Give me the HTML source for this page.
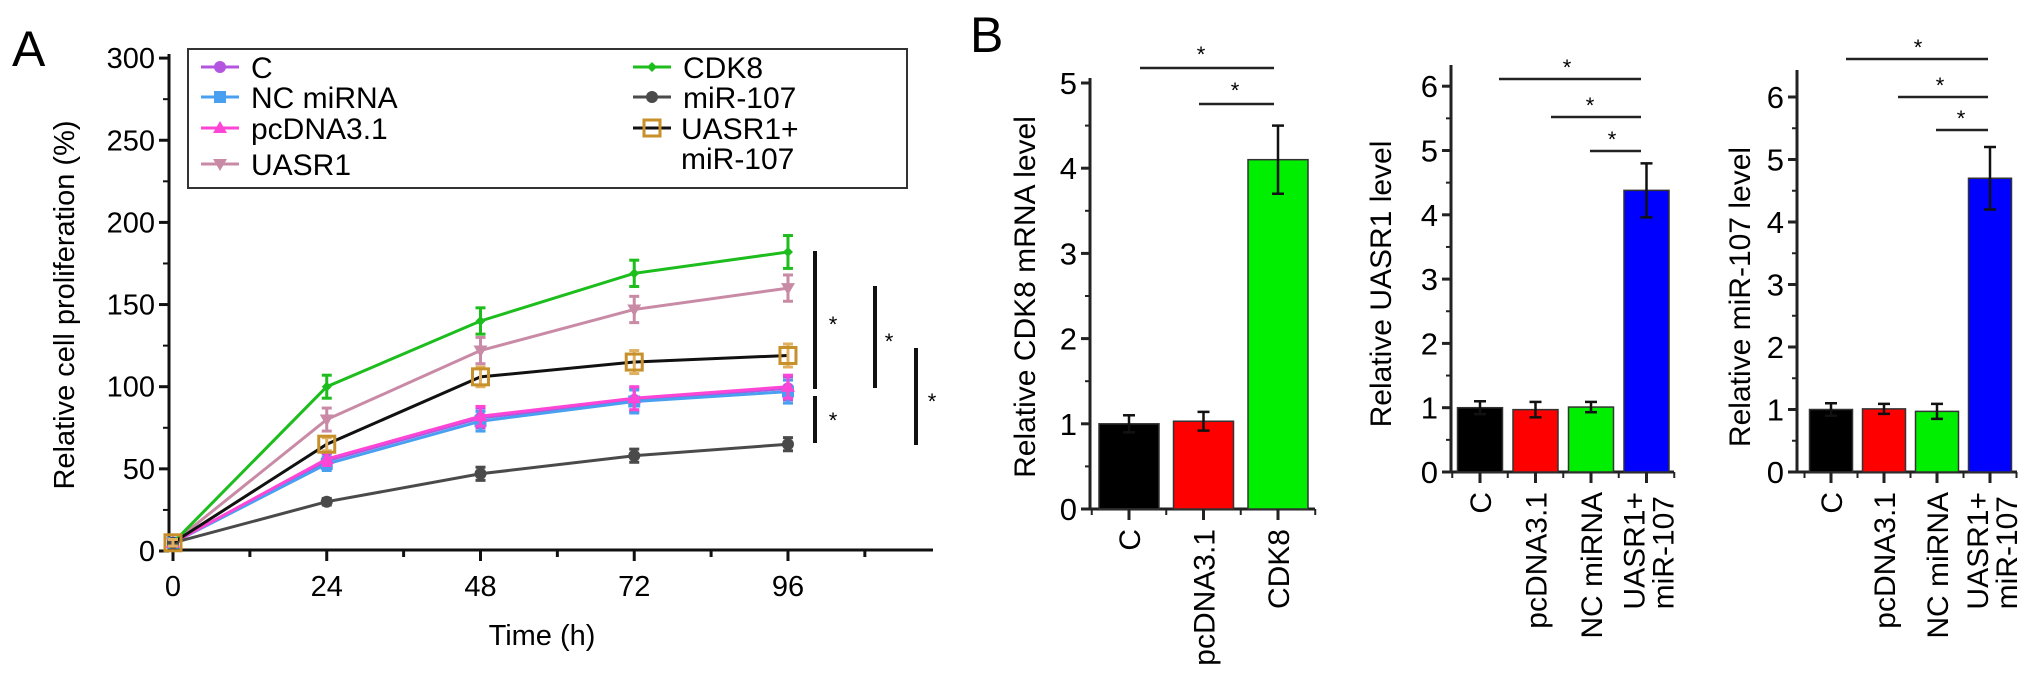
<!DOCTYPE html>
<html><head><meta charset="utf-8">
<style>
html,body{margin:0;padding:0;background:#fff;}
svg{display:block;font-family:"Liberation Sans",Arial,sans-serif;}
</style></head>
<body>
<svg id="fig" width="2032" height="685" viewBox="0 0 2032 685" xmlns="http://www.w3.org/2000/svg">
<text x="12" y="66" font-size="50">A</text>
<text x="970" y="52" font-size="50">B</text>
<g id="pa"></g>
<g id="b1"></g>
<g id="b2"></g>
<g id="b3"></g>
</svg>
<script>
// ---- Panel A data ----
const timePoints = [0, 24, 48, 72, 96];
const xTickLabels = ["0", "24", "48", "72", "96"];
const yTickValsA = [0, 50, 100, 150, 200, 250, 300];
const seriesNames = ["C", "NC miRNA", "pcDNA3.1", "UASR1", "CDK8", "miR-107", "UASR1+miR-107"];
const valsC = [5, 55, 81, 92, 99];
const valsNC = [5, 53, 79, 91, 97];
const valsPc = [5, 56, 82, 93, 100];
const valsUASR1 = [5, 80, 122, 147, 160];
const valsCDK8 = [5, 100, 140, 169, 182];
const valsMiR = [5, 30, 47, 58, 65];
const valsCombo = [5, 65, 106, 115, 119];
const errC = [2, 4, 6, 7, 7];
const errNC = [2, 4, 6, 7, 7];
const errPc = [2, 4, 6, 7, 7];
const errUASR1 = [2, 7, 8, 8, 8];
const errCDK8 = [2, 7, 8, 8, 10];
const errMiR = [2, 2, 4, 4, 4];
const errCombo = [2, 4, 6, 7, 7];

// ---- Panel B data ----
const b1Cats = ["C", "pcDNA3.1", "CDK8"];
const b1Vals = [1.0, 1.03, 4.1];
const b1Err = [0.1, 0.11, 0.4];
const b1Ticks = [0, 1, 2, 3, 4, 5];
const b2Cats = ["C", "pcDNA3.1", "NC miRNA", "UASR1+|miR-107"];
const b2Vals = [1.0, 0.97, 1.01, 4.38];
const b2Err = [0.1, 0.12, 0.08, 0.42];
const b3Cats = ["C", "pcDNA3.1", "NC miRNA", "UASR1+|miR-107"];
const b3Vals = [1.0, 1.01, 0.97, 4.7];
const b3Err = [0.1, 0.08, 0.12, 0.5];
const b23Ticks = [0, 1, 2, 3, 4, 5, 6];

const NS = "http://www.w3.org/2000/svg";
function mk(parent, tag, attrs, txt) {
  const e = document.createElementNS(NS, tag);
  for (const k in attrs) e.setAttribute(k, attrs[k]);
  if (txt !== undefined) e.textContent = txt;
  parent.appendChild(e);
  return e;
}

// ================= Panel A =================
(function () {
  const g = document.getElementById('pa');
  const ax = t => 173 + t * 6.406;
  const ay = v => 551 - v * 1.643;
  let e = mk(g, 'line', {x1: 169, y1: 54, x2: 169, y2: 551, stroke: '#111', 'stroke-width': 3});
  
  
  e = mk(g, 'line', {x1: 168, y1: 550, x2: 933, y2: 550, stroke: '#111', 'stroke-width': 3});
  
  
  yTickValsA.forEach((v, i) => {
    mk(g, 'line', {x1: 159, y1: ay(v), x2: 169, y2: ay(v), stroke: '#111', 'stroke-width': 3});
    if (i < yTickValsA.length - 1) mk(g, 'line', {x1: 163, y1: ay(v + 25), x2: 169, y2: ay(v + 25), stroke: '#111', 'stroke-width': 2});
    const t = mk(g, 'text', {x: 155, y: ay(v) + 10, 'font-size': 29, 'text-anchor': 'end'}, String(v));
    
    
  });
  for (let h = 0; h <= 108; h += 12) {
    const major = h % 24 === 0;
    mk(g, 'line', {x1: ax(h), y1: 550, x2: ax(h), y2: major ? 561 : 557, stroke: '#111', 'stroke-width': 3});
  }
  timePoints.forEach((t, i) => {
    const tx = mk(g, 'text', {x: ax(t), y: 596, 'font-size': 29, 'text-anchor': 'middle'}, xTickLabels[i]);
    
    
  });
  e = mk(g, 'text', {x: 542, y: 645, 'font-size': 29, 'text-anchor': 'middle'}, 'Time (h)');
  
  
  e = mk(g, 'text', {x: 0, y: 0, 'font-size': 29, 'text-anchor': 'middle', transform: 'translate(74,305) rotate(-90)'}, 'Relative cell proliferation (%)');
  
  

  const series = [
    {name: 'c', vals: valsC, err: errC, color: '#b455e0', mk: 'circle'},
    {name: 'nc-mirna', vals: valsNC, err: errNC, color: '#4aa0f0', mk: 'square'},
    {name: 'pcdna31', vals: valsPc, err: errPc, color: '#ff45d5', mk: 'tri'},
    {name: 'uasr1', vals: valsUASR1, err: errUASR1, color: '#c98aa6', mk: 'dtri'},
    {name: 'cdk8', vals: valsCDK8, err: errCDK8, color: '#1cbd1c', mk: 'diamond'},
    {name: 'mir-107', vals: valsMiR, err: errMiR, color: '#4a4a4a', mk: 'circle'},
    {name: 'uasr1-mir-107', vals: valsCombo, err: errCombo, color: '#111', mk: 'osquare'}
  ];
  function marker(p, type, x, y, color) {
    if (type === 'circle') return mk(p, 'circle', {cx: x, cy: y, r: 6, fill: color});
    if (type === 'square') return mk(p, 'rect', {x: x - 6, y: y - 6, width: 12, height: 12, fill: color});
    if (type === 'tri') return mk(p, 'polygon', {points: `${x},${y-7} ${x-7},${y+5} ${x+7},${y+5}`, fill: color});
    if (type === 'dtri') return mk(p, 'polygon', {points: `${x},${y+7} ${x-7},${y-5} ${x+7},${y-5}`, fill: color});
    if (type === 'diamond') return mk(p, 'polygon', {points: `${x},${y-5} ${x-5},${y} ${x},${y+5} ${x+5},${y}`, fill: color});
    if (type === 'osquare') return mk(p, 'rect', {x: x - 8, y: y - 8, width: 16, height: 16, fill: 'none', stroke: '#c8902a', 'stroke-width': 3});
  }
  series.forEach(s => {
    const sg = mk(g, 'g', {});
    
    
    const pts = timePoints.map((t, i) => ax(t) + ',' + ay(s.vals[i])).join(' ');
    mk(sg, 'polyline', {points: pts, fill: 'none', stroke: s.color, 'stroke-width': 3});
    timePoints.forEach((t, i) => {
      const x = ax(t), y1 = ay(s.vals[i] + s.err[i]), y2 = ay(s.vals[i] - s.err[i]);
      const ec = s.mk === 'osquare' ? '#e0b060' : s.color;
      mk(sg, 'line', {x1: x, y1: y1, x2: x, y2: y2, stroke: ec, 'stroke-width': 3});
      mk(sg, 'line', {x1: x - 5, y1: y1, x2: x + 5, y2: y1, stroke: ec, 'stroke-width': 3});
      mk(sg, 'line', {x1: x - 5, y1: y2, x2: x + 5, y2: y2, stroke: ec, 'stroke-width': 3});
      const m = marker(sg, s.mk, x, ay(s.vals[i]), s.color);
      
      
    });
  });
  // legend
  const lg = mk(g, 'g', {});
  
  
  mk(lg, 'rect', {x: 188, y: 49, width: 719, height: 139, fill: '#fff', stroke: '#333', 'stroke-width': 2});
  const legPos = [[201, 67], [201, 97], [201, 128], [201, 164], [633, 67], [633, 97], [633, 128]];
  series.forEach((s, i) => {
    const [lx, ly] = legPos[i];
    const eg = mk(lg, 'g', {});
    
    
    mk(eg, 'line', {x1: lx, y1: ly, x2: lx + 38, y2: ly, stroke: s.color, 'stroke-width': 3});
    marker(eg, s.mk, lx + 19, ly, s.color);
    if (i === 6) {
      mk(eg, 'text', {x: lx + 48, y: ly + 11, 'font-size': 30}, 'UASR1+');
      mk(eg, 'text', {x: lx + 48, y: 169, 'font-size': 30}, 'miR-107');
    } else {
      mk(eg, 'text', {x: lx + 50, y: ly + 11, 'font-size': 30}, seriesNames[i]);
    }
  });
  const sig = [[815, 251, 389], [815, 396, 443], [875, 286, 388], [916, 348, 445]];
  sig.forEach(b => {
    const l = mk(g, 'line', {x1: b[0], y1: b[1], x2: b[0], y2: b[2], stroke: '#111', 'stroke-width': 4});
    
    
  });
  [[833, 332], [833, 428], [889, 349], [932, 409]].forEach(s => {
    const t = mk(g, 'text', {x: s[0], y: s[1], 'font-size': 22, 'text-anchor': 'middle'}, '*');
    
    
  });
})();

// ================= Panel B =================
function barChart(id, cfg) {
  const g = document.getElementById(id);
  const by = v => cfg.base - v * cfg.unit;
  const colors = cfg.colors;
  let e = mk(g, 'line', {x1: cfg.axisX, y1: cfg.top, x2: cfg.axisX, y2: cfg.base + 1, stroke: '#222', 'stroke-width': 3});
  
  
  e = mk(g, 'line', {x1: cfg.axisX - 8, y1: cfg.base, x2: cfg.axisEnd, y2: cfg.base, stroke: '#222', 'stroke-width': 3});
  
  
  cfg.ticks.forEach((v, i) => {
    mk(g, 'line', {x1: cfg.axisX - 9, y1: by(v), x2: cfg.axisX, y2: by(v), stroke: '#222', 'stroke-width': 3});
    if (i < cfg.ticks.length - 1) mk(g, 'line', {x1: cfg.axisX - 5, y1: by(v + 0.5), x2: cfg.axisX, y2: by(v + 0.5), stroke: '#222', 'stroke-width': 2});
    const t = mk(g, 'text', {x: cfg.axisX - 13, y: by(v) + 11, 'font-size': 31, 'text-anchor': 'end'}, String(v));
    
    
  });
  const n = cfg.cats.length;
  const cx = i => cfg.first + i * cfg.step;
  for (let i = 0; i <= n; i++) {
    const xx = cfg.first + (i - 0.5) * cfg.step;
    if (xx > cfg.axisX && xx < cfg.axisEnd + 2) mk(g, 'line', {x1: xx, y1: cfg.base, x2: xx, y2: cfg.base + 6, stroke: '#222', 'stroke-width': 2});
  }
  cfg.cats.forEach((c, i) => {
    const x = cx(i);
    const r = mk(g, 'rect', {x: x - cfg.bw / 2, y: by(cfg.vals[i]), width: cfg.bw, height: cfg.vals[i] * cfg.unit, fill: colors[i], stroke: '#333', 'stroke-width': 1.5});
    
    
    const y1 = by(cfg.vals[i] + cfg.err[i]), y2 = by(cfg.vals[i] - cfg.err[i]);
    const eb = mk(g, 'g', {});
    
    
    mk(eb, 'line', {x1: x, y1: y1, x2: x, y2: y2, stroke: '#111', 'stroke-width': 2.5});
    mk(eb, 'line', {x1: x - 6, y1: y1, x2: x + 6, y2: y1, stroke: '#111', 'stroke-width': 2.5});
    mk(eb, 'line', {x1: x - 6, y1: y2, x2: x + 6, y2: y2, stroke: '#111', 'stroke-width': 2.5});
    mk(g, 'line', {x1: x, y1: cfg.base, x2: x, y2: cfg.base + 11, stroke: '#222', 'stroke-width': 3});
    const parts = c.split('|');
    const top = cfg.base + 20;
    if (parts.length === 1) {
      const t = mk(g, 'text', {x: 0, y: 0, 'font-size': 30, 'text-anchor': 'end', transform: `translate(${x + 11},${top}) rotate(-90)`}, parts[0]);
      
      
    } else {
      let t = mk(g, 'text', {x: 0, y: 0, 'font-size': 30, 'text-anchor': 'end', transform: `translate(${x - 2},${top}) rotate(-90)`}, parts[0]);
      
      
      t = mk(g, 'text', {x: 0, y: 0, 'font-size': 30, 'text-anchor': 'end', transform: `translate(${x + 27},${top + 4}) rotate(-90)`}, parts[1]);
      
      
    }
  });
  e = mk(g, 'text', {x: 0, y: 0, 'font-size': 30, 'text-anchor': 'middle', transform: `translate(${cfg.titleX},${cfg.titleY}) rotate(-90)`}, cfg.title);
  
  
  cfg.sig.forEach(s => {
    const l = mk(g, 'line', {x1: s[0], y1: s[2], x2: s[1], y2: s[2], stroke: '#222', 'stroke-width': 2.5});
    
    
    const t = mk(g, 'text', {x: s[3], y: s[4], 'font-size': 22, 'text-anchor': 'middle'}, '*');
    
    
  });
}

barChart('b1', {cats: b1Cats, vals: b1Vals, err: b1Err, ticks: b1Ticks,
  base: 509, unit: 85.2, top: 78, axisX: 1090, axisEnd: 1315, first: 1129, step: 74.5, bw: 60,
  colors: ['#000000', '#ff0000', '#00ee00'], title: 'Relative CDK8 mRNA level', titleX: 1035, titleY: 297,
  sig: [[1140, 1274, 68, 1201, 62], [1199, 1274, 104, 1235, 98]]});
barChart('b2', {cats: b2Cats, vals: b2Vals, err: b2Err, ticks: b23Ticks,
  base: 472, unit: 64.3, top: 65, axisX: 1451, axisEnd: 1674, first: 1480, step: 55.5, bw: 45,
  colors: ['#000000', '#ff0000', '#00ee00', '#0000ff'], title: 'Relative UASR1 level', titleX: 1391, titleY: 284,
  sig: [[1499, 1641, 79, 1567, 75], [1551, 1641, 117, 1590, 113], [1590, 1641, 151, 1612, 147]]});
barChart('b3', {cats: b3Cats, vals: b3Vals, err: b3Err, ticks: b23Ticks,
  base: 472, unit: 62.5, top: 70, axisX: 1797, axisEnd: 2017, first: 1831, step: 53, bw: 43,
  colors: ['#000000', '#ff0000', '#00ee00', '#0000ff'], title: 'Relative miR-107 level', titleX: 1750, titleY: 297,
  sig: [[1846, 1988, 59, 1918, 55], [1898, 1988, 97, 1940, 93], [1936, 1988, 130, 1961, 126]]});
</script>
</body></html>
